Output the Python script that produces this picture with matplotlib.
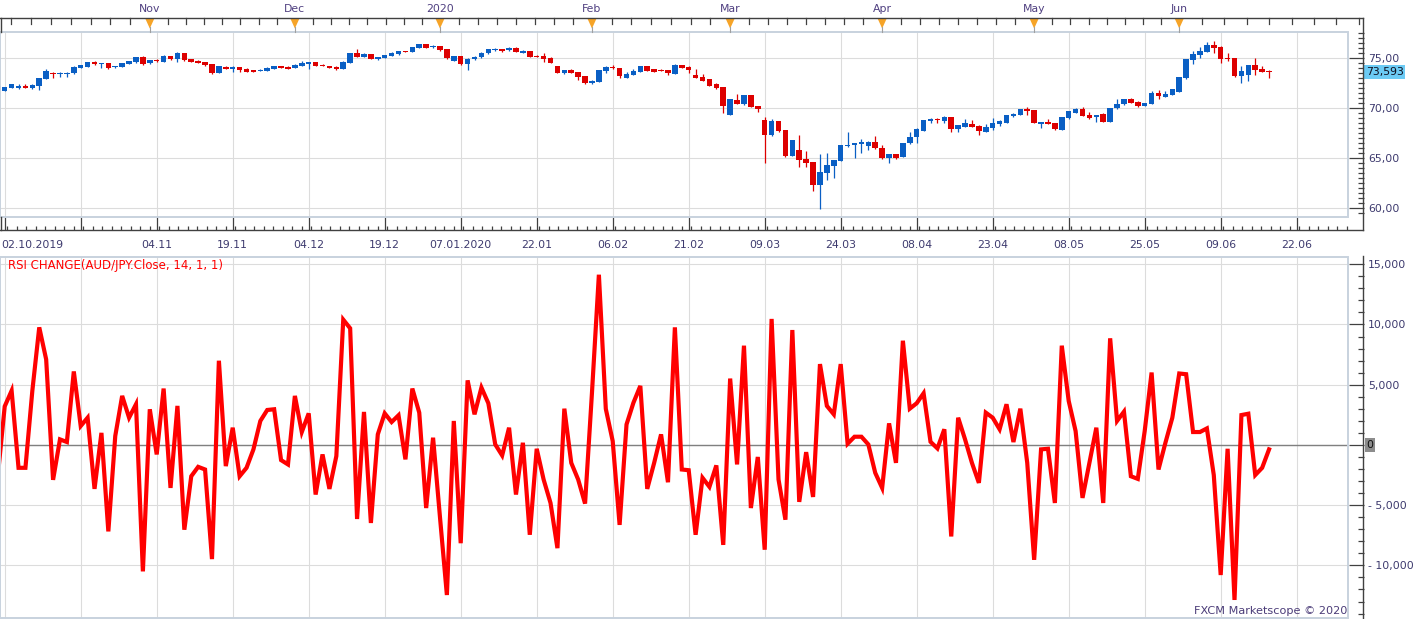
import numpy as np
import matplotlib
matplotlib.use("Agg")
import matplotlib.pyplot as plt
from matplotlib.lines import Line2D
from matplotlib.patches import Rectangle, Polygon
from matplotlib.ticker import FixedLocator, FuncFormatter, MultipleLocator
import matplotlib.transforms as mtransforms

# ---------------- data (AUD/JPY daily candles) ----------------
open_ = [72.22, 71.75, 72.05, 72.05, 72.25, 72.02, 72.22, 72.96, 73.56, 73.43,
         73.46, 73.49, 74.06, 74.16, 74.66, 74.40, 74.53, 74.10, 74.16, 74.46,
         74.63, 75.13, 74.50, 74.87, 74.66, 75.23, 74.97, 75.50, 74.93, 74.77,
         74.63, 74.43, 73.56, 74.16, 73.96, 74.13, 73.96, 73.79, 73.73, 73.76,
         73.96, 74.23, 74.16, 74.06, 74.26, 74.40, 74.63, 74.36, 74.23, 74.16,
         73.93, 74.56, 75.54, 75.17, 75.44, 74.97, 75.07, 75.27, 75.40, 75.74,
         75.67, 76.07, 76.44, 76.11, 76.24, 75.94, 74.77, 75.23, 74.46, 74.90,
         75.10, 75.50, 75.84, 75.94, 75.80, 76.07, 75.57, 75.74, 75.27, 75.27,
         75.07, 74.23, 73.56, 73.83, 73.63, 73.23, 72.49, 72.65, 73.73, 74.16,
         73.99, 73.06, 73.32, 73.66, 74.23, 73.90, 73.86, 73.83, 73.46, 74.33,
         74.16, 73.32, 73.12, 72.89, 72.39, 72.09, 69.30, 70.81, 70.41, 71.31,
         70.21, 68.80, 67.29, 68.70, 67.80, 65.22, 65.79, 64.85, 64.55, 62.27,
         63.51, 64.21, 64.72, 66.19, 66.26, 66.36, 66.22, 66.62, 65.96, 65.02,
         65.39, 65.12, 66.46, 67.06, 67.73, 68.73, 68.87, 68.73, 69.07, 67.86,
         68.13, 68.40, 68.20, 67.63, 67.96, 68.40, 68.53, 69.20, 69.34, 69.94,
         69.81, 68.43, 68.60, 68.47, 67.80, 68.97, 69.54, 69.91, 69.30, 69.07,
         69.37, 68.63, 69.97, 70.38, 70.91, 70.64, 70.21, 70.41, 71.48, 71.15,
         71.31, 71.65, 72.99, 74.83, 75.34, 75.67, 76.34, 76.14, 75.00, 75.00,
         73.22, 73.32, 74.33, 73.93, 73.76]
high_ = [72.32, 72.15, 72.45, 72.39, 72.45, 72.45, 73.06, 73.93, 73.66, 73.66,
         73.59, 74.26, 74.36, 74.63, 74.77, 74.56, 74.56, 74.20, 74.56, 74.77,
         75.17, 75.27, 74.87, 74.90, 75.34, 75.27, 75.64, 75.54, 74.97, 74.83,
         74.66, 74.46, 74.26, 74.20, 74.20, 74.16, 74.03, 73.86, 73.90, 74.10,
         74.26, 74.26, 74.20, 74.43, 74.73, 74.66, 74.66, 74.40, 74.26, 74.20,
         74.73, 75.54, 75.94, 75.57, 75.47, 75.17, 75.37, 75.60, 75.77, 75.77,
         76.14, 76.47, 76.47, 76.34, 76.27, 75.97, 75.27, 75.27, 75.03, 75.20,
         75.60, 75.97, 76.01, 75.97, 76.11, 76.11, 75.80, 75.77, 75.34, 75.50,
         75.10, 74.26, 73.86, 73.90, 73.66, 73.26, 72.82, 73.86, 74.23, 74.33,
         74.03, 73.63, 73.90, 74.26, 74.26, 73.93, 73.90, 73.86, 74.43, 74.36,
         74.23, 73.90, 73.46, 72.92, 72.55, 72.12, 70.91, 71.41, 71.35, 71.35,
         70.24, 69.14, 68.90, 68.73, 67.83, 66.82, 67.29, 65.72, 64.58, 65.45,
         65.55, 64.81, 66.29, 67.56, 66.49, 66.86, 66.66, 67.19, 66.26, 65.45,
         65.45, 66.49, 67.56, 67.96, 68.83, 69.04, 68.97, 69.20, 69.10, 68.33,
         68.87, 68.80, 68.30, 68.40, 68.97, 68.80, 69.34, 69.47, 69.94, 70.07,
         69.84, 68.63, 68.90, 68.50, 69.10, 69.74, 70.04, 70.14, 69.64, 69.34,
         69.47, 70.01, 70.88, 70.91, 71.01, 70.74, 70.51, 71.72, 71.82, 71.75,
         71.91, 73.12, 74.93, 75.77, 76.17, 76.61, 76.74, 76.24, 75.57, 75.03,
         74.23, 74.36, 75.00, 74.23, 73.79]
low_ = [71.75, 71.72, 72.02, 71.92, 72.02, 71.88, 71.82, 72.93, 73.06, 73.16,
        73.16, 73.46, 74.03, 74.13, 74.37, 74.06, 73.96, 74.06, 74.13, 74.43,
        74.53, 74.36, 74.46, 74.66, 74.63, 74.83, 74.63, 74.77, 74.60, 74.53,
        74.26, 73.46, 73.52, 73.93, 73.66, 73.66, 73.59, 73.63, 73.70, 73.73,
        73.93, 73.99, 73.93, 74.03, 74.23, 73.96, 74.23, 74.20, 74.03, 73.83,
        73.90, 74.53, 75.10, 75.13, 74.93, 74.87, 75.03, 75.23, 75.37, 75.60,
        75.64, 76.04, 76.04, 76.07, 75.74, 74.93, 74.73, 74.36, 73.83, 74.87,
        75.07, 75.47, 75.77, 75.67, 75.77, 75.64, 75.54, 75.13, 75.10, 74.66,
        74.53, 73.52, 73.43, 73.52, 72.82, 72.45, 72.45, 72.62, 73.56, 73.96,
        73.06, 73.03, 73.29, 73.63, 73.70, 73.63, 73.73, 73.29, 73.43, 74.03,
        73.49, 73.03, 72.69, 72.22, 71.95, 69.47, 69.27, 70.38, 70.31, 70.07,
        69.64, 64.52, 67.19, 67.60, 65.12, 65.19, 64.11, 64.11, 61.67, 59.92,
        62.77, 63.04, 64.68, 66.06, 64.95, 65.52, 65.79, 65.92, 64.88, 64.45,
        64.92, 65.09, 66.42, 66.52, 67.70, 68.53, 68.47, 68.53, 67.63, 67.63,
        68.06, 68.06, 67.29, 67.60, 67.80, 68.20, 68.50, 69.14, 69.30, 69.30,
        68.50, 68.03, 68.40, 67.83, 67.76, 68.94, 69.50, 69.20, 68.90, 68.63,
        68.60, 68.60, 69.94, 70.34, 70.51, 70.07, 70.17, 70.38, 70.91, 71.12,
        71.28, 71.62, 72.92, 74.43, 75.00, 75.64, 75.57, 74.56, 74.73, 73.09,
        72.55, 72.72, 73.32, 73.63, 73.06]
close_ = [71.82, 72.09, 72.42, 72.22, 72.05, 72.32, 72.99, 73.73, 73.39, 73.56,
          73.52, 74.16, 74.33, 74.60, 74.40, 74.53, 74.06, 74.16, 74.53, 74.73,
          75.13, 74.43, 74.83, 74.70, 75.23, 74.90, 75.50, 74.83, 74.63, 74.56,
          74.30, 73.56, 74.23, 73.96, 74.16, 73.83, 73.66, 73.66, 73.86, 74.06,
          74.23, 74.03, 73.96, 74.36, 74.50, 74.63, 74.26, 74.23, 74.06, 73.93,
          74.63, 75.50, 75.17, 75.47, 74.97, 75.13, 75.34, 75.57, 75.74, 75.64,
          76.11, 76.44, 76.07, 76.24, 75.84, 75.07, 75.23, 74.46, 74.97, 75.17,
          75.57, 75.94, 75.94, 75.77, 76.07, 75.67, 75.77, 75.17, 75.17, 74.97,
          74.56, 73.56, 73.83, 73.56, 73.16, 72.49, 72.72, 73.83, 74.16, 73.99,
          73.23, 73.43, 73.76, 74.23, 73.73, 73.66, 73.76, 73.49, 74.33, 74.06,
          73.86, 73.06, 72.72, 72.25, 71.98, 70.21, 70.88, 70.41, 71.31, 70.14,
          69.94, 67.29, 68.70, 67.70, 65.19, 66.79, 64.78, 64.52, 62.27, 63.58,
          64.28, 64.78, 66.26, 66.32, 66.46, 66.62, 66.62, 65.96, 65.02, 65.39,
          64.95, 66.46, 67.13, 67.86, 68.80, 68.94, 68.77, 69.14, 67.86, 68.30,
          68.47, 68.13, 67.70, 68.13, 68.53, 68.70, 69.30, 69.40, 69.91, 69.74,
          68.53, 68.60, 68.43, 67.86, 69.07, 69.71, 69.94, 69.24, 68.97, 69.30,
          68.63, 69.97, 70.41, 70.88, 70.54, 70.21, 70.48, 71.48, 71.25, 71.41,
          71.88, 73.09, 74.90, 75.40, 75.74, 76.34, 76.07, 74.93, 74.90, 73.22,
          73.73, 74.33, 73.83, 73.66, 73.59]
last_price = 73.593

# RSI CHANGE(AUD/JPY.Close, 14, 1, 1)
rsi_change = [-2600, 3200, 4500, -1900, -1900, 4500, 9760, 7100, -2900, 460,
              240, 6100, 1570, 2260, -3650, 1000, -7180, 740, 4070, 2260,
              3375, -10500, 2960, -790, 4680, -3570, 3240, -7040, -2600, -1820,
              -2040, -9480, 6990, -1760, 1430, -2600, -1900, -370, 1990, 2900,
              2960, -1260, -1620, 4070, 1070, 2620, -4120, -790, -3650, -930,
              10400, 9680, -6150, 2740, -6480, 875, 2620, 1900, 2460, -1200,
              4680, 2680, -5240, 600, -6000, -12460, 1990, -8160, 5360, 2540,
              4760, 3460, 40, -875, 1430, -4120, 180, -7460, -320, -2870,
              -4820, -8570, 3010, -1490, -2870, -4870, 4340, 14130, 3000, 320,
              -6640, 1700, 3500, 4900, -3650, -1490, 875, -3100, 9760, -2040,
              -2100, -7460, -2730, -3480, -1700, -8300, 5510, -1620, 8240, -5240,
              -1000, -8700, 10460, -2870, -6210, 9540, -4730, -600, -4320, 6710,
              3240, 2540, 6710, 100, 680, 680, 40, -2320, -3570, 1790,
              -1490, 8650, 3010, 3460, 4290, 260, -290, 1300, -7600, 2260,
              460, -1500, -3150, 2680, 2260, 1300, 3375, 240, 3010, -1490,
              -9540, -370, -320, -4820, 8240, 3650, 1150, -4400, -1490, 1430,
              -4820, 8850, 1990, 2760, -2600, -2820, 1150, 6010, -2040, 180,
              2260, 5930, 5870, 1070, 1070, 1370, -2500, -10800, -320, -12870,
              2480, 2590, -2500, -1900, -370]

# axis labels (bar index of each labelled gridline)
date_tick_pos = [1, 12, 23, 34, 45, 56, 67, 78, 89, 100, 111, 122, 133, 144, 155, 166, 177, 188]
date_tick_labels = ["", "", "04.11", "19.11", "04.12", "19.12", "07.01.2020", "22.01",
                    "06.02", "21.02", "09.03", "24.03", "08.04", "23.04", "08.05",
                    "25.05", "09.06", "22.06"]
first_date_label = "02.10.2019"
month_pos = [22, 43, 64, 86, 106, 128, 150, 171]
month_labels = ["Nov", "Dec", "2020", "Feb", "Mar", "Apr", "May", "Jun"]

# ---------------- style ----------------
W, H = 1421, 619
BLUE = "#0a5fc4"
RED = "#dd0000"
TXT = "#3d3a6e"
FRAME = "#404040"
GRID = "#dcdcdc"
BOX = "#c8d2de"
FS = 7.8
PX = 72.0 / 100.0  # points per pixel

plt.rcParams["font.family"] = ["DejaVu Sans"]
fig = plt.figure(figsize=(W / 100, H / 100), dpi=100)


def px_axes(x0, y0, x1, y1):
    return fig.add_axes([x0 / W, 1 - y1 / H, (x1 - x0) / W, (y1 - y0) / H])


def fline(x0, y0, x1, y1, **kw):
    fig.add_artist(Line2D([x0 / W, x1 / W], [1 - y0 / H, 1 - y1 / H],
                          transform=fig.transFigure, **kw))


ax1 = px_axes(0, 31.7, 1348.3, 217.3)
ax2 = px_axes(0, 257.3, 1348.3, 617.7)

o = np.array(open_); h = np.array(high_); l = np.array(low_); c = np.array(close_)
idx = np.arange(len(c))
XL = (2.2 / 6.909, (1348.3 + 2.2) / 6.909)

# ---------------- top panel: candles ----------------
cols = np.where(c >= o, BLUE, RED)
ax1.vlines(idx, l, h, colors=cols, lw=0.9, zorder=3)
ax1.bar(idx, np.maximum(np.abs(c - o), 0.1), bottom=np.minimum(o, c), width=0.8,
        color=cols, lw=0, zorder=4)
ax1.set_xlim(*XL)
ax1.set_ylim(59.05, 77.67)

for ax in (ax1, ax2):
    for s in ax.spines.values():
        s.set_visible(False)
    ax.set_axisbelow(True)
    ax.add_patch(Rectangle((0, 0), 1, 1, transform=ax.transAxes, fill=False,
                           ec=BOX, lw=1.4, clip_on=False, zorder=6))
    ax.spines["right"].set_position(("outward", 15.3 * PX))
    ax.yaxis.tick_right()
    ax.xaxis.set_major_locator(FixedLocator(date_tick_pos))
    ax.grid(True, which="major", color=GRID, lw=0.8)

ax1.spines["bottom"].set_position(("outward", 12.7 * PX))
ax1.set_xticklabels(date_tick_labels)
ax1.xaxis.set_minor_locator(MultipleLocator(11 / 8))
ax1.tick_params(axis="x", which="major", direction="in", length=12.7 * PX, width=0.9,
                color=FRAME, labelsize=FS, labelcolor=TXT, pad=7)
ax1.tick_params(axis="x", which="minor", direction="in", length=4 * PX, width=0.9, color=FRAME)

ax1.yaxis.set_major_locator(FixedLocator([60, 65, 70, 75]))
ax1.yaxis.set_minor_locator(MultipleLocator(0.5))
ax1.yaxis.set_major_formatter(FuncFormatter(lambda v, p: f"{v:.2f}".replace(".", ",")))
ax1.tick_params(axis="y", which="major", direction="in", length=15.3 * PX, width=0.9,
                color=FRAME, labelsize=FS, labelcolor=TXT, pad=3)
ax1.tick_params(axis="y", which="minor", direction="in", length=6 * PX, width=0.9, color=FRAME)

ax1.annotate(f"{last_price:.3f}".replace(".", ","), xy=(1, last_price),
             xycoords=("axes fraction", "data"), xytext=(17.3 * PX, 0),
             textcoords="offset points", ha="left", va="center", fontsize=FS,
             color="#101020", annotation_clip=False,
             bbox=dict(boxstyle="square,pad=0.18", fc="#6ccbf5", ec="none"))

fig.text(1 / W, 1 - 244.5 / H, first_date_label, ha="left", va="center",
         fontsize=FS, color=TXT)

# top panel frame
fline(0, 18.3, 1363.3, 18.3, color=FRAME, lw=1.0)
fline(0, 230, 1363.3, 230, color=FRAME, lw=1.0)
fline(1363.3, 18.3, 1363.3, 230, color=FRAME, lw=1.0)
fline(0.5, 18.3, 0.5, 31.7, color=FRAME, lw=1.0)
fline(0.5, 217.3, 0.5, 230, color=FRAME, lw=1.0)

# top (month) axis ticks and markers
tx = mtransforms.blended_transform_factory(ax1.transData, fig.transFigure)
top_ticks = list(np.arange(month_pos[0], 1.5, -2.86)[1:])
for m0, m1 in zip(month_pos[:-1], month_pos[1:]):
    n = int(round((m1 - m0) / 2.7))
    top_ticks += list(m0 + (m1 - m0) * np.arange(1, n) / n)
top_ticks += list(np.arange(month_pos[-1] + 3.25, 197.5, 3.25))
for t in top_ticks:
    fig.add_artist(Line2D([t, t], [1 - 18.3 / H, 1 - 23.5 / H], transform=tx,
                          color=FRAME, lw=0.9))
for m, lab in zip(month_pos, month_labels):
    fig.add_artist(Line2D([m, m], [1 - 27 / H, 1 - 31.7 / H], transform=tx,
                          color="#a0a0a0", lw=0.8))
    fig.add_artist(Polygon([[m - 0.66, 1 - 18.5 / H], [m + 0.66, 1 - 18.5 / H],
                            [m, 1 - 28.5 / H]], closed=True, transform=tx,
                           fc="#f6a428", ec="none"))
    fig.text(m, 1 - 9 / H, lab, transform=tx, ha="center", va="center",
             fontsize=FS, color="#4f3f80")

# ---------------- bottom panel: RSI change ----------------
ax2.plot(idx, rsi_change, color="#ff0000", lw=3.0, zorder=4, solid_joinstyle="miter")
ax2.axhline(0, color="#808080", lw=1.0, zorder=3)
ax2.set_xlim(*XL)
ax2.set_ylim(-14344, 15576)
ax2.tick_params(axis="x", which="both", length=0, labelbottom=False)
ax2.yaxis.set_major_locator(MultipleLocator(5000))
ax2.yaxis.set_minor_locator(MultipleLocator(1000))


def rsi_fmt(v, p):
    if abs(v) < 1:
        return ""
    s = f"{abs(v):,.0f}"
    return ("- " + s) if v < 0 else s


ax2.yaxis.set_major_formatter(FuncFormatter(rsi_fmt))
ax2.tick_params(axis="y", which="major", direction="in", length=15.3 * PX, width=0.9,
                color=FRAME, labelsize=FS, labelcolor=TXT, pad=3)
ax2.tick_params(axis="y", which="minor", direction="in", length=6 * PX, width=0.9, color=FRAME)
ax2.annotate("0", xy=(1, 0), xycoords=("axes fraction", "data"), xytext=(18.3 * PX, 0),
             textcoords="offset points", ha="left", va="center", fontsize=FS,
             color="#101010", annotation_clip=False,
             bbox=dict(boxstyle="square,pad=0.15", fc="#8c8c8c", ec="none"))
fline(1363.3, 256.5, 1363.3, 619, color=FRAME, lw=1.0)

fig.text(8 / W, 1 - 265.5 / H, "RSI CHANGE(AUD/JPY.Close, 14, 1, 1)", ha="left",
         va="center", fontsize=8.5, color="#ff0000")
fig.text(1347 / W, 1 - 611 / H, "FXCM Marketscope © 2020", ha="right", va="center",
         fontsize=8.1, color="#4b3c78")

fig.savefig("out.png", dpi=100)
